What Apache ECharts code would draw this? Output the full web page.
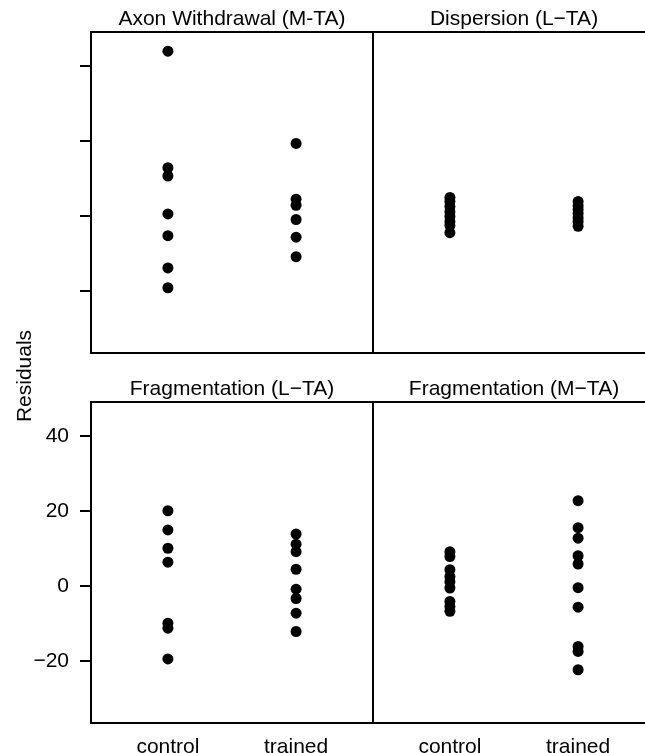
<!DOCTYPE html>
<html><head><meta charset="utf-8">
<script src="https://cdn.jsdelivr.net/npm/echarts@6/dist/echarts.min.js"></script>
<style>html,body{margin:0;padding:0;background:#fff}#c{width:645px;height:753px}</style>
</head><body><div id="c"></div>
<script>
const categories = ['control', 'trained'];
const panelTitles = ['Axon Withdrawal (M-TA)', 'Dispersion (L\u2212TA)', 'Fragmentation (L\u2212TA)', 'Fragmentation (M\u2212TA)'];
const yTicks = [-20, 0, 20, 40];
const yAxisTitle = 'Residuals';

const axonControl = [43.9, 12.8, 10.6, 0.5, -5.3, -13.9, -19.2];
const axonTrained = [19.3, 4.4, 2.8, -1.0, -5.7, -10.9];
const dispControl = [4.9, 3.8, 2.5, 1.1, -0.2, -1.5, -2.6, -4.5];
const dispTrained = [3.8, 2.7, 1.7, 0.6, -0.5, -1.5, -2.8];
const fragLControl = [20.0, 14.9, 10.0, 6.3, -10.0, -11.3, -19.5];
const fragLTrained = [13.8, 11.1, 9.1, 4.4, -0.9, -3.4, -7.3, -12.2];
const fragMControl = [9.1, 7.8, 4.3, 2.5, 1.1, -0.6, -4.2, -5.5, -6.8];
const fragMTrained = [22.7, 15.5, 12.7, 8.0, 5.8, -0.5, -5.7, -16.2, -17.5, -22.4];

const panelData = [
  [axonControl, axonTrained],
  [dispControl, dispTrained],
  [fragLControl, fragLTrained],
  [fragMControl, fragMTrained]
];

const FONT = '"Liberation Sans", Arial, Helvetica, sans-serif';
const FS = 21;
const PW = 282, PH = 321;
const lefts = [91, 373, 91, 373];
const tops = [32, 32, 402, 402];

const grids = [], xAxes = [], yAxes = [], series = [], graphics = [];
for (let i = 0; i < 4; i++) {
  const isBottom = i >= 2, isLeft = i % 2 === 0;
  grids.push({
    left: lefts[i], top: tops[i], width: PW, height: PH,
    outerBoundsMode: 'none', containLabel: false,
    show: true, borderColor: '#000', borderWidth: 2, backgroundColor: 'transparent'
  });
  xAxes.push({
    type: 'value', gridIndex: i, min: 0.4, max: 2.6,
    axisLine: {show: false}, axisTick: {show: false}, splitLine: {show: false},
    axisLabel: {
      show: isBottom, customValues: [1, 2], margin: 14,
      formatter: v => categories[Math.round(v) - 1] || '',
      fontSize: FS, color: '#000', fontFamily: FONT
    }
  });
  yAxes.push({
    type: 'value', gridIndex: i, min: -36.6, max: 49,
    axisLine: {show: false}, splitLine: {show: false},
    axisTick: {show: isLeft, customValues: yTicks, length: 11, lineStyle: {color: '#000', width: 2}},
    axisLabel: {
      show: isLeft && isBottom, customValues: yTicks, margin: 22,
      formatter: v => String(v).replace('-', '\u2212'),
      fontSize: FS, color: '#000', fontFamily: FONT
    }
  });
  panelData[i].forEach((arr, k) => {
    series.push({
      type: 'scatter', xAxisIndex: i, yAxisIndex: i,
      symbol: 'circle', symbolSize: 11,
      itemStyle: {color: '#000', opacity: 1},
      data: arr.map(v => [k + 1, v])
    });
  });
  graphics.push({
    type: 'text', x: lefts[i] + PW / 2, y: tops[i] - 13,
    style: {text: panelTitles[i], font: FS + 'px ' + FONT, fill: '#000', textAlign: 'center', textVerticalAlign: 'middle'}
  });
}
graphics.push({
  type: 'text', x: 25, y: 376, rotation: Math.PI / 2,
  style: {text: yAxisTitle, font: FS + 'px ' + FONT, fill: '#000', textAlign: 'center', textVerticalAlign: 'middle'}
});

const chart = echarts.init(document.getElementById('c'));
chart.setOption({
  animation: false,
  backgroundColor: '#fff',
  grid: grids, xAxis: xAxes, yAxis: yAxes, series: series, graphic: graphics
});
</script>
</body></html>
